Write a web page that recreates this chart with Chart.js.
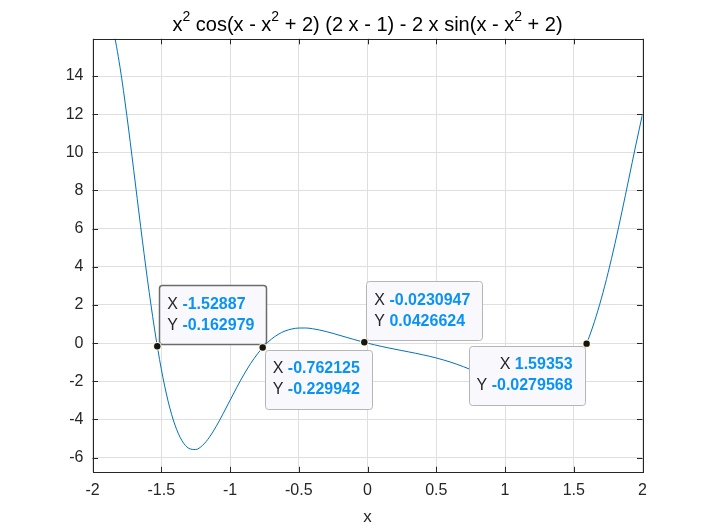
<!DOCTYPE html>
<html>
<head>
<meta charset="utf-8">
<script src="https://cdn.jsdelivr.net/npm/chart.js@4.4.1/dist/chart.umd.min.js"></script>
<style>
html,body{margin:0;padding:0;background:#ffffff;}
#wrap{width:709px;height:531px;position:relative;}
</style>
</head>
<body>
<div id="wrap"><canvas id="c" width="709" height="531"></canvas></div>
<script>
// ---- data ----
const xValues = [-2,-1.95,-1.9,-1.85,-1.8,-1.75,-1.7,-1.65,-1.6,-1.55,-1.5,-1.45,-1.4,-1.35,-1.3,-1.25,-1.2,-1.15,-1.1,-1.05,
  -1,-0.95,-0.9,-0.85,-0.8,-0.75,-0.7,-0.65,-0.6,-0.55,-0.5,-0.45,-0.4,-0.35,-0.3,-0.25,-0.2,-0.15,-0.1,-0.05,
  0,0.05,0.1,0.15,0.2,0.25,0.3,0.35,0.4,0.45,0.5,0.55,0.6,0.65,0.7,0.75,0.8,0.85,0.9,0.95,
  1,1.05,1.1,1.15,1.2,1.25,1.3,1.35,1.4,1.45,1.5,1.55,1.6,1.65,1.7,1.75,1.8,1.85,1.9,1.95,2];
const yValues = [16.100,17.410,17.534,16.431,14.462,11.911,9.048,6.117,3.315,0.792,-1.348,-3.050,-4.296,-5.104,-5.512,-5.576,-5.360,-4.933,-4.359,-3.697,
  -3.000,-2.310,-1.659,-1.070,-0.560,-0.135,0.203,0.457,0.634,0.742,0.791,0.793,0.756,0.690,0.605,0.508,0.403,0.298,0.194,0.094,
  0,-0.088,-0.170,-0.246,-0.319,-0.390,-0.460,-0.532,-0.608,-0.689,-0.778,-0.877,-0.986,-1.107,-1.241,-1.386,-1.544,-1.711,-1.884,-2.061,
  -2.235,-2.399,-2.545,-2.661,-2.736,-2.756,-2.704,-2.563,-2.316,-1.943,-1.428,-0.754,0.091,1.116,2.320,3.696,5.225,6.875,8.599,10.334,12.000];

const tipX = [-1.52887, -0.762125, -0.0230947, 1.59353];
const tipY = [-0.162979, -0.229942, 0.0426624, -0.0279568];
const tipXText = ['-1.52887', '-0.762125', '-0.0230947', '1.59353'];
const tipYText = ['-0.162979', '-0.229942', '0.0426624', '-0.0279568'];

const xTickValues = [-2, -1.5, -1, -0.5, 0, 0.5, 1, 1.5, 2];
const xTickLabels = ['-2', '-1.5', '-1', '-0.5', '0', '0.5', '1', '1.5', '2'];
const yTickValues = [-6, -4, -2, 0, 2, 4, 6, 8, 10, 12, 14];
const yTickLabels = ['-6', '-4', '-2', '0', '2', '4', '6', '8', '10', '12', '14'];

const titleParts = [['x', 0], ['2', 1], [' cos(x - x', 0], ['2', 1], [' + 2) (2 x - 1) - 2 x sin(x - x', 0], ['2', 1], [' + 2)', 0]];
const xLabel = 'x';

// ---- styles ----
const FONT = '"Liberation Sans", Arial, Helvetica, sans-serif';
const TEXT = '#262626';
const LINE = '#0072BD';
const TIP_VAL = '#0a93f5';
const tipPlacement = ['ne', 'se', 'ne', 'sw'];
const tipBorder = ['#6b6b6b', '#b5b5b5', '#b5b5b5', '#b5b5b5'];

const AREA = {left: 92.5, right: 642.5, top: 38.8, bottom: 472.3};

const overlay = {
  id: 'overlay',
  afterDatasetsDraw(chart) {
    const {ctx, chartArea: a, scales: {x, y}} = chart;
    ctx.save();
    ctx.strokeStyle = TEXT;
    ctx.lineWidth = 1;
    ctx.strokeRect(Math.round(a.left) + 0.5, Math.round(a.top) + 0.5,
      Math.round(a.right) - Math.round(a.left), Math.round(a.bottom) - Math.round(a.top));
    const L = 5.5;
    ctx.beginPath();
    x.ticks.forEach(t => {
      const px = Math.round(x.getPixelForValue(t.value)) + 0.5;
      ctx.moveTo(px, a.bottom); ctx.lineTo(px, a.bottom - L);
      ctx.moveTo(px, a.top); ctx.lineTo(px, a.top + L);
    });
    y.ticks.forEach(t => {
      const py = Math.round(y.getPixelForValue(t.value)) + 0.5;
      ctx.moveTo(a.left, py); ctx.lineTo(a.left + L, py);
      ctx.moveTo(a.right, py); ctx.lineTo(a.right - L, py);
    });
    ctx.stroke();
    ctx.restore();
  },
  afterDraw(chart) {
    const {ctx, chartArea: a, scales: {x, y}} = chart;
    ctx.save();
    // title with superscripts
    const big = '20px ' + FONT, small = '14px ' + FONT;
    let total = 0;
    titleParts.forEach(([t, s]) => { ctx.font = s ? small : big; total += ctx.measureText(t).width; });
    let cx = (a.left + a.right) / 2 - total / 2;
    const base = 31;
    ctx.fillStyle = '#000000';
    ctx.textBaseline = 'alphabetic';
    ctx.textAlign = 'left';
    titleParts.forEach(([t, s]) => {
      ctx.font = s ? small : big;
      ctx.fillText(t, cx, s ? base - 10 : base);
      cx += ctx.measureText(t).width;
    });
    // x label
    ctx.font = '17px ' + FONT;
    ctx.fillStyle = TEXT;
    ctx.textAlign = 'center';
    ctx.textBaseline = 'middle';
    ctx.fillText(xLabel, (a.left + a.right) / 2, 517);

    // datatips
    const BOX_H = 59, PADL = 8, PADR = 12, GAP = 2;
    const reg = '16px ' + FONT, bold = 'bold 16px ' + FONT;
    tipX.forEach((vx, i) => {
      const px = x.getPixelForValue(vx), py = y.getPixelForValue(tipY[i]);
      const lines = [['X', tipXText[i]], ['Y', tipYText[i]]];
      const widths = lines.map(([lab, val]) => {
        ctx.font = reg; const w1 = ctx.measureText(lab + ' ').width;
        ctx.font = bold; return w1 + ctx.measureText(val).width;
      });
      const w = Math.max(...widths) + PADL + PADR;
      const pl = tipPlacement[i];
      const left = pl[1] === 'e' ? px + GAP : px - GAP - w;
      const top = pl[0] === 'n' ? py - GAP - BOX_H : py + GAP;
      ctx.beginPath();
      ctx.roundRect(Math.round(left) + 0.5, Math.round(top) + 0.5, Math.round(w), BOX_H, 3);
      ctx.fillStyle = '#f9f9fd';
      ctx.fill();
      ctx.strokeStyle = tipBorder[i];
      ctx.lineWidth = i === 0 ? 1.5 : 1;
      ctx.stroke();
      ctx.textBaseline = 'middle';
      ctx.textAlign = 'left';
      lines.forEach(([lab, val], k) => {
        const ty = top + 19 + k * 21;
        let tx = pl[1] === 'e' ? left + PADL : left + w - PADR - widths[k];
        ctx.font = reg; ctx.fillStyle = TEXT;
        ctx.fillText(lab, tx, ty);
        tx += ctx.measureText(lab + ' ').width;
        ctx.font = bold; ctx.fillStyle = TIP_VAL;
        ctx.fillText(val, tx, ty);
      });
    });
    // markers
    tipX.forEach((vx, i) => {
      const px = x.getPixelForValue(vx), py = y.getPixelForValue(tipY[i]);
      ctx.beginPath(); ctx.arc(px, py, 4.3, 0, Math.PI * 2); ctx.fillStyle = '#fbf8cf'; ctx.fill();
      ctx.beginPath(); ctx.arc(px, py, 3.2, 0, Math.PI * 2); ctx.fillStyle = '#151515'; ctx.fill();
    });
    ctx.restore();
  }
};

const chart = new Chart(document.getElementById('c'), {
  type: 'scatter',
  data: {
    datasets: [{
      data: xValues.map((v, i) => ({x: v, y: yValues[i]})),
      showLine: true,
      borderColor: LINE,
      borderWidth: 1,
      pointRadius: 0,
      cubicInterpolationMode: 'monotone',
      fill: false
    }]
  },
  options: {
    responsive: false,
    animation: false,
    devicePixelRatio: 1,
    events: [],
    layout: {padding: {left: 0, top: AREA.top, right: 709 - AREA.right, bottom: 0}},
    plugins: {legend: {display: false}, tooltip: {enabled: false}, title: {display: false}},
    scales: {
      x: {
        type: 'linear', min: -2, max: 2,
        afterFit(s) { s.height = 531 - AREA.bottom; },
        afterBuildTicks(s) { s.ticks = xTickValues.map(v => ({value: v})); },
        ticks: {
          callback: (v) => xTickLabels[xTickValues.indexOf(v)] ?? '',
          font: {family: FONT, size: 16}, color: TEXT, padding: 9, maxRotation: 0
        },
        grid: {color: '#dfdfdf', drawTicks: false, lineWidth: 1},
        border: {display: false}
      },
      y: {
        type: 'linear', min: -6.77, max: 15.95,
        afterFit(s) { s.width = AREA.left; },
        afterBuildTicks(s) { s.ticks = yTickValues.map(v => ({value: v})); },
        ticks: {
          callback: (v) => yTickLabels[yTickValues.indexOf(v)] ?? '',
          font: {family: FONT, size: 16}, color: TEXT, padding: 9
        },
        grid: {color: '#dfdfdf', drawTicks: false, lineWidth: 1},
        border: {display: false}
      }
    }
  },
  plugins: [overlay]
});
</script>
</body>
</html>
